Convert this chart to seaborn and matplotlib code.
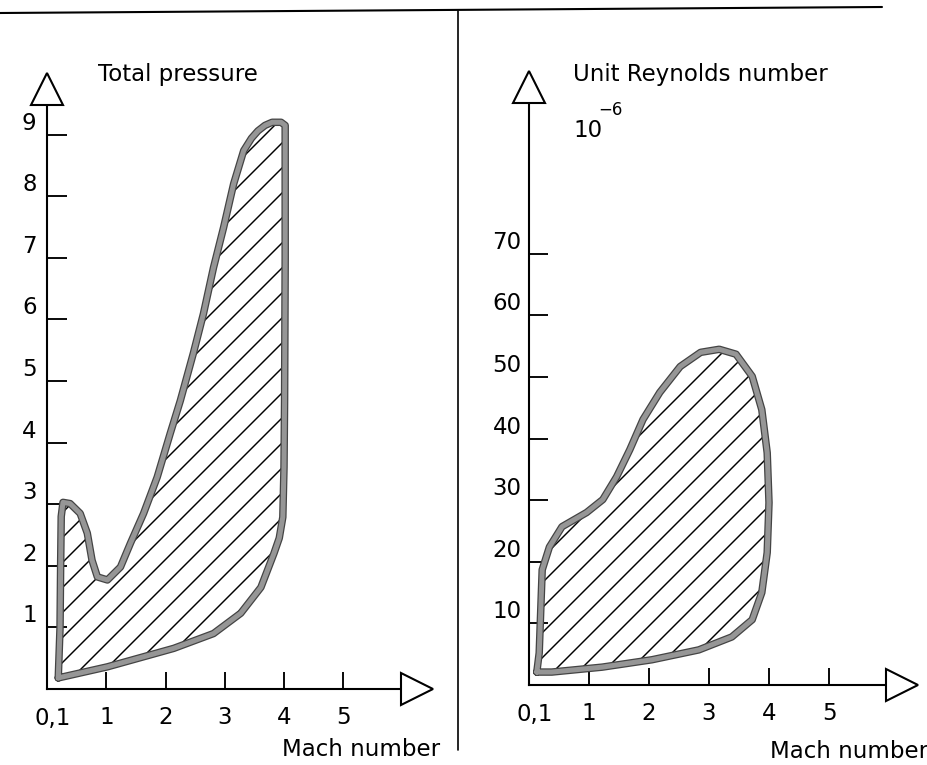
import numpy as np
import matplotlib
matplotlib.use("Agg")
import matplotlib.pyplot as plt
from matplotlib.lines import Line2D
import seaborn as sns

# Mach number / total pressure envelope (closed outline)
pressure_mach = [0.19, 0.22, 0.23, 0.24, 0.27, 0.39, 0.56, 0.68, 0.76, 0.85, 1.02,
                 1.24, 1.41, 1.63, 1.86, 2.08, 2.25, 2.47, 2.64, 2.81, 2.98, 3.15,
                 3.32, 3.45, 3.56, 3.68, 3.80, 3.95, 4.02, 4.02, 4.01, 4.00, 3.98,
                 3.92, 3.83, 3.61, 3.27, 2.81, 2.14, 1.02, 0.19]
pressure_val = [0.18, 1.00, 2.00, 2.80, 3.03, 3.01, 2.85, 2.53, 2.09, 1.82, 1.77,
                1.98, 2.37, 2.85, 3.44, 4.15, 4.68, 5.45, 6.09, 6.84, 7.49, 8.20,
                8.74, 8.94, 9.06, 9.15, 9.20, 9.20, 9.15, 7.00, 4.70, 3.60, 2.79,
                2.45, 2.20, 1.65, 1.23, 0.90, 0.66, 0.36, 0.18]

# Mach number / unit Reynolds number envelope (x 10^-6)
reynolds_mach = [0.13, 0.17, 0.20, 0.22, 0.34, 0.55, 0.96, 1.23, 1.46, 1.68, 1.90,
                 2.18, 2.52, 2.86, 3.17, 3.45, 3.72, 3.88, 3.97, 4.00, 3.97, 3.88,
                 3.72, 3.38, 2.83, 2.05, 1.22, 0.38, 0.13]
reynolds_val = [2.1, 5.2, 13.3, 18.7, 22.4, 25.7, 28.0, 30.1, 33.8, 38.2, 43.1,
                47.5, 51.7, 54.0, 54.5, 53.7, 50.1, 44.7, 37.7, 29.6, 21.5, 15.0,
                10.6, 7.8, 5.7, 4.1, 2.9, 2.1, 2.1]

mach_ticks = [0.1, 1, 2, 3, 4, 5]
mach_labels = ["0,1", "1", "2", "3", "4", "5"]
pressure_ticks = [1, 2, 3, 4, 5, 6, 7, 8, 9]
reynolds_ticks = [10, 20, 30, 40, 50, 60, 70]

W, H = 927, 765

sns.set_theme(style="white")
plt.rcParams["font.family"] = ["DejaVu Sans"]
plt.rcParams["hatch.linewidth"] = 0.7
plt.rcParams["axes.linewidth"] = 1.0
plt.rcParams["text.color"] = "black"
plt.rcParams["xtick.color"] = "black"
plt.rcParams["ytick.color"] = "black"


def fx(px):
    return px / W


def fy(py):
    return 1 - py / H


def draw_panel(ax, mach, vals, yticks, ypad, tick_len):
    ax.fill(mach, vals, facecolor="none", edgecolor="black", hatch="//", linewidth=0, zorder=2)
    mx = list(mach) + [mach[0]]
    vy = list(vals) + [vals[0]]
    sns.lineplot(x=mx, y=vy, sort=False, estimator=None, color="#444444",
                 linewidth=3.6, ax=ax, zorder=3, clip_on=False)
    sns.lineplot(x=mx, y=vy, sort=False, estimator=None, color="#969696",
                 linewidth=2.4, ax=ax, zorder=4, clip_on=False)
    for s in ["top", "right"]:
        ax.spines[s].set_visible(False)
    for s in ["left", "bottom"]:
        ax.spines[s].set_color("black")
        ax.spines[s].set_linewidth(1.0)
    ax.set_xticks(mach_ticks, mach_labels, fontsize=11, color="black")
    ax.set_yticks(yticks, [str(t) for t in yticks], fontsize=11, va="bottom", color="black")
    ax.tick_params(axis="x", direction="in", length=8, width=0.9, pad=8.4, color="black", bottom=True)
    ax.tick_params(axis="y", direction="in", length=tick_len, width=0.9, pad=ypad, color="black", left=True)
    ax.xaxis.get_major_ticks()[0].tick1line.set_visible(False)
    ax.set_xlabel("")
    ax.set_ylabel("")
    ax.grid(False)
    ax.patch.set_alpha(0)


fig = plt.figure(figsize=(W / 150, H / 150), dpi=150)

# left panel: total pressure
ax1 = fig.add_axes([fx(47), fy(689), fx(400) - fx(47), fy(105) - fy(689)])
ax1.set_xlim(0, (400 - 47) / 59.25)
ax1.set_ylim(0, (689 - 105) / 61.6)
draw_panel(ax1, pressure_mach, pressure_val, pressure_ticks, 5, 9.5)
ax1.plot([0], [1.027], marker="^", markersize=15, mfc="white", mec="black", mew=1.0,
         transform=ax1.transAxes, clip_on=False, zorder=5)
ax1.plot([1.047], [0], marker=">", markersize=15, mfc="white", mec="black", mew=1.0,
         transform=ax1.transAxes, clip_on=False, zorder=5)

# right panel: unit Reynolds number
ax2 = fig.add_axes([fx(529), fy(685), fx(887) - fx(529), fy(102) - fy(685)])
ax2.set_xlim(0, (887 - 529) / 60)
ax2.set_ylim(0, (685 - 102) / 6.16)
draw_panel(ax2, reynolds_mach, reynolds_val, reynolds_ticks, 3.5, 9)
ax2.plot([0], [1.026], marker="^", markersize=15, mfc="white", mec="black", mew=1.0,
         transform=ax2.transAxes, clip_on=False, zorder=5)
ax2.plot([1.042], [0], marker=">", markersize=15, mfc="white", mec="black", mew=1.0,
         transform=ax2.transAxes, clip_on=False, zorder=5)

# texts
fig.text(fx(98), fy(81), "Total pressure", fontsize=11, va="baseline", ha="left")
fig.text(fx(573), fy(81), "Unit Reynolds number", fontsize=11, va="baseline", ha="left")
fig.text(fx(573), fy(137), "10", fontsize=11, va="baseline", ha="left")
fig.text(fx(598), fy(115), "\u22126", fontsize=8, va="baseline", ha="left")
fig.text(fx(282), fy(756), "Mach number", fontsize=11, va="baseline", ha="left")
fig.text(fx(770), fy(758), "Mach number", fontsize=11, va="baseline", ha="left")

# frame lines of the original page
fig.add_artist(Line2D([fx(0), fx(882)], [fy(13), fy(7)], color="black", linewidth=1.0))
fig.add_artist(Line2D([fx(458), fx(458)], [fy(11), fy(750)], color="black", linewidth=0.8))

fig.savefig("out.png", dpi=150, facecolor="white")
